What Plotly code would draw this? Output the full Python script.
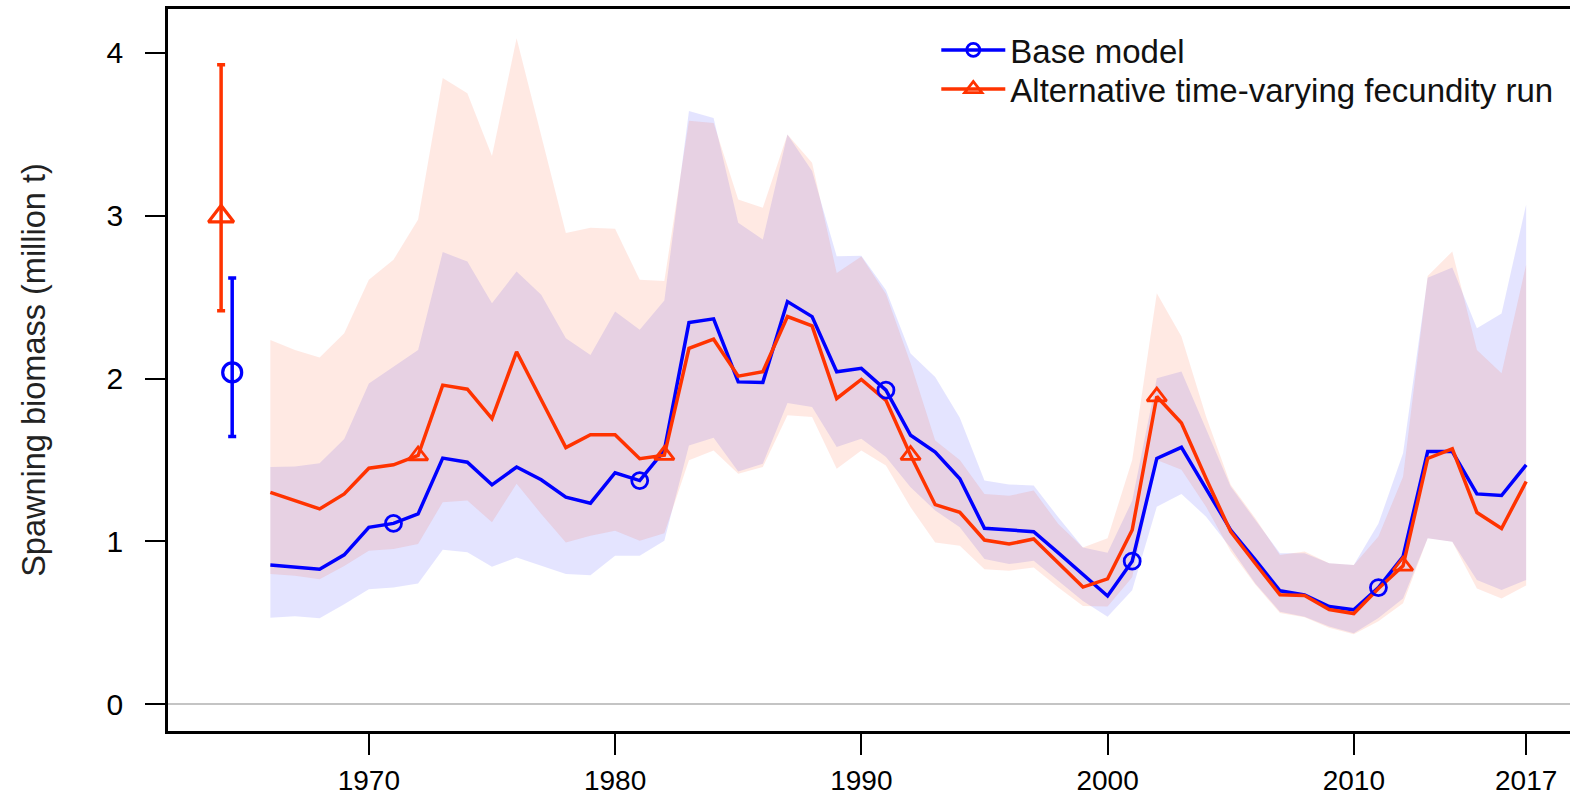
import plotly.graph_objects as go

years = list(range(1966, 2018))

base_mid = [0.855, 0.845, 0.83, 0.918, 1.087, 1.111, 1.169, 1.512, 1.487, 1.348,
            1.457, 1.379, 1.272, 1.235, 1.422, 1.374, 1.559, 2.344, 2.367, 1.98,
            1.977, 2.473, 2.381, 2.042, 2.063, 1.929, 1.652, 1.549, 1.385, 1.081,
            1.072, 1.06, 0.93, 0.80, 0.665, 0.879, 1.51, 1.578, 1.325, 1.07,
            0.887, 0.697, 0.672, 0.60, 0.58, 0.717, 0.907, 1.552, 1.552, 1.292,
            1.282, 1.47]
base_hi = [1.457, 1.46, 1.48, 1.63, 1.97, 2.073, 2.176, 2.777, 2.72, 2.463,
           2.658, 2.515, 2.248, 2.145, 2.412, 2.30, 2.48, 3.644, 3.60, 2.957,
           2.854, 3.50, 3.275, 2.751, 2.755, 2.545, 2.155, 2.01, 1.76, 1.374,
           1.35, 1.344, 1.148, 0.963, 0.93, 1.25, 2.003, 2.044, 1.694, 1.337,
           1.132, 0.928, 0.928, 0.866, 0.856, 1.11, 1.542, 2.62, 2.683, 2.31,
           2.40, 3.07]
base_lo = [0.532, 0.54, 0.528, 0.614, 0.707, 0.717, 0.742, 0.949, 0.933, 0.844,
           0.902, 0.851, 0.80, 0.793, 0.912, 0.912, 1.005, 1.59, 1.637, 1.43,
           1.477, 1.851, 1.826, 1.58, 1.631, 1.518, 1.333, 1.19, 1.087, 0.892,
           0.861, 0.881, 0.76, 0.635, 0.538, 0.70, 1.213, 1.292, 1.152, 0.96,
           0.742, 0.569, 0.538, 0.477, 0.436, 0.53, 0.65, 1.019, 0.999, 0.764,
           0.702, 0.763]

alt_mid = [1.302, 1.25, 1.2, 1.292, 1.45, 1.471, 1.528, 1.96, 1.935, 1.755,
           2.165, 1.87, 1.576, 1.656, 1.656, 1.508, 1.53, 2.186, 2.242, 2.015,
           2.042, 2.381, 2.324, 1.878, 1.995, 1.867, 1.53, 1.226, 1.179, 1.009,
           0.984, 1.015, 0.865, 0.72, 0.77, 1.07, 1.89, 1.727, 1.387, 1.06,
           0.865, 0.672, 0.668, 0.582, 0.557, 0.711, 0.85, 1.51, 1.569, 1.178,
           1.08, 1.368]
alt_hi = [2.237, 2.176, 2.13, 2.279, 2.607, 2.73, 2.977, 3.846, 3.753, 3.367,
          4.09, 3.49, 2.895, 2.926, 2.92, 2.607, 2.6, 3.583, 3.57, 3.10,
          3.049, 3.50, 3.326, 2.648, 2.75, 2.52, 2.094, 1.62, 1.50, 1.292,
          1.28, 1.313, 1.107, 0.963, 1.02, 1.50, 2.524, 2.259, 1.767, 1.348,
          1.143, 0.917, 0.938, 0.866, 0.856, 1.03, 1.398, 2.63, 2.781, 2.176,
          2.033, 2.701]
alt_lo = [0.80, 0.79, 0.768, 0.85, 0.943, 0.953, 0.984, 1.241, 1.251, 1.118,
          1.354, 1.169, 0.994, 1.035, 1.066, 1.005, 1.05, 1.498, 1.559, 1.416,
          1.457, 1.775, 1.765, 1.447, 1.559, 1.467, 1.21, 0.994, 0.974, 0.83,
          0.82, 0.84, 0.717, 0.604, 0.60, 0.78, 1.50, 1.44, 1.213, 0.94,
          0.735, 0.56, 0.535, 0.47, 0.43, 0.51, 0.62, 1.019, 0.999, 0.711,
          0.65, 0.73]

base_marker_years = [1971, 1981, 1991, 2001, 2011]
alt_marker_years = [1972, 1982, 1992, 2002, 2012]

# unfished (virgin) biomass estimates with intervals
base_init_x, base_init, base_init_lo, base_init_hi = 1964.45, 2.038, 1.644, 2.618
alt_init_x, alt_init, alt_init_lo, alt_init_hi = 1964.0, 2.996, 2.417, 3.928

series_names = ["Base model", "Alternative time-varying fecundity run"]
BLUE = "#0000FF"
RED = "#FF3300"

fig = go.Figure()

# bands
fig.add_trace(go.Scatter(x=years, y=base_hi, mode="lines", line=dict(width=0),
                         showlegend=False, hoverinfo="skip"))
fig.add_trace(go.Scatter(x=years, y=base_lo, mode="lines", line=dict(width=0),
                         fill="tonexty", fillcolor="rgba(0,0,255,0.105)",
                         showlegend=False, hoverinfo="skip"))
fig.add_trace(go.Scatter(x=years, y=alt_hi, mode="lines", line=dict(width=0),
                         showlegend=False, hoverinfo="skip"))
fig.add_trace(go.Scatter(x=years, y=alt_lo, mode="lines", line=dict(width=0),
                         fill="tonexty", fillcolor="rgba(255,51,0,0.11)",
                         showlegend=False, hoverinfo="skip"))

# lines
fig.add_trace(go.Scatter(x=years, y=base_mid, mode="lines",
                         line=dict(color=BLUE, width=3.5), showlegend=False))
fig.add_trace(go.Scatter(x=years, y=alt_mid, mode="lines",
                         line=dict(color=RED, width=3.5), showlegend=False))

# decade markers
bm_y = [base_mid[years.index(y)] for y in base_marker_years]
am_y = [alt_mid[years.index(y)] for y in alt_marker_years]
fig.add_trace(go.Scatter(x=base_marker_years, y=bm_y, mode="markers",
                         marker=dict(symbol="circle-open", size=16, color=BLUE,
                                     line=dict(width=2.8, color=BLUE)),
                         showlegend=False))
fig.add_trace(go.Scatter(x=alt_marker_years, y=am_y, mode="markers",
                         marker=dict(symbol="triangle-up-open", size=17, color=RED,
                                     line=dict(width=2.8, color=RED)),
                         showlegend=False))

# initial points with error bars
fig.add_trace(go.Scatter(x=[alt_init_x], y=[alt_init], mode="markers",
                         marker=dict(symbol="triangle-up-open", size=22, color=RED,
                                     line=dict(width=3.2, color=RED)),
                         error_y=dict(type="data", symmetric=False,
                                      array=[alt_init_hi - alt_init],
                                      arrayminus=[alt_init - alt_init_lo],
                                      color=RED, thickness=3.5, width=4),
                         showlegend=False))
fig.add_trace(go.Scatter(x=[base_init_x], y=[base_init], mode="markers",
                         marker=dict(symbol="circle-open", size=19, color=BLUE,
                                     line=dict(width=3.2, color=BLUE)),
                         error_y=dict(type="data", symmetric=False,
                                      array=[base_init_hi - base_init],
                                      arrayminus=[base_init - base_init_lo],
                                      color=BLUE, thickness=3.5, width=4),
                         showlegend=False))

# legend entries (one per legend box so rows can be spaced like the original)
fig.add_trace(go.Scatter(x=[None], y=[None], mode="lines+markers", name=series_names[0],
                         line=dict(color=BLUE, width=3.5), legend="legend",
                         marker=dict(symbol="circle-open", size=13, color=BLUE,
                                     line=dict(width=2.8, color=BLUE))))
fig.add_trace(go.Scatter(x=[None], y=[None], mode="lines+markers", name=series_names[1],
                         line=dict(color=RED, width=3.5), legend="legend2",
                         marker=dict(symbol="triangle-up-open", size=15, color=RED,
                                     line=dict(width=2.8, color=RED))))

FONT = "Liberation Sans, Arial, Helvetica, sans-serif"

legend_style = dict(xanchor="left", yanchor="top", bgcolor="rgba(0,0,0,0)", borderwidth=0,
                    font=dict(family=FONT, size=33, color="#111111"), itemwidth=64)

fig.update_layout(
    width=1570, height=809,
    margin=dict(l=168, r=0, t=9, b=78, pad=0),
    paper_bgcolor="white", plot_bgcolor="white",
    font=dict(family=FONT, size=30, color="black"),
    showlegend=True,
    legend=dict(x=0.548, y=0.982, **legend_style),
    legend2=dict(x=0.548, y=0.928, **legend_style),
    xaxis=dict(range=[1961.843, 2018.78], tickvals=[1970, 1980, 1990, 2000, 2010, 2017],
               ticks="outside", ticklen=21, tickwidth=2, tickcolor="black",
               showline=True, linewidth=2.5, linecolor="black", mirror=True,
               showgrid=False, zeroline=False,
               tickfont=dict(family=FONT, size=28, color="black"),
               ticklabelstandoff=2),
    yaxis=dict(range=[-0.164, 4.27], tickvals=[0, 1, 2, 3, 4],
               ticks="outside", ticklen=20, tickwidth=2, tickcolor="black",
               showline=True, linewidth=2.5, linecolor="black", mirror=False,
               showgrid=False, zeroline=True, zerolinecolor="#c4c4c4", zerolinewidth=2,
               tickfont=dict(family=FONT, size=30, color="black"),
               ticklabelstandoff=16,
               title=dict(text="Spawning biomass (million t)",
                          font=dict(family=FONT, size=32.5, color="#222222"),
                          standoff=52)),
)

fig.write_html("out.html")
